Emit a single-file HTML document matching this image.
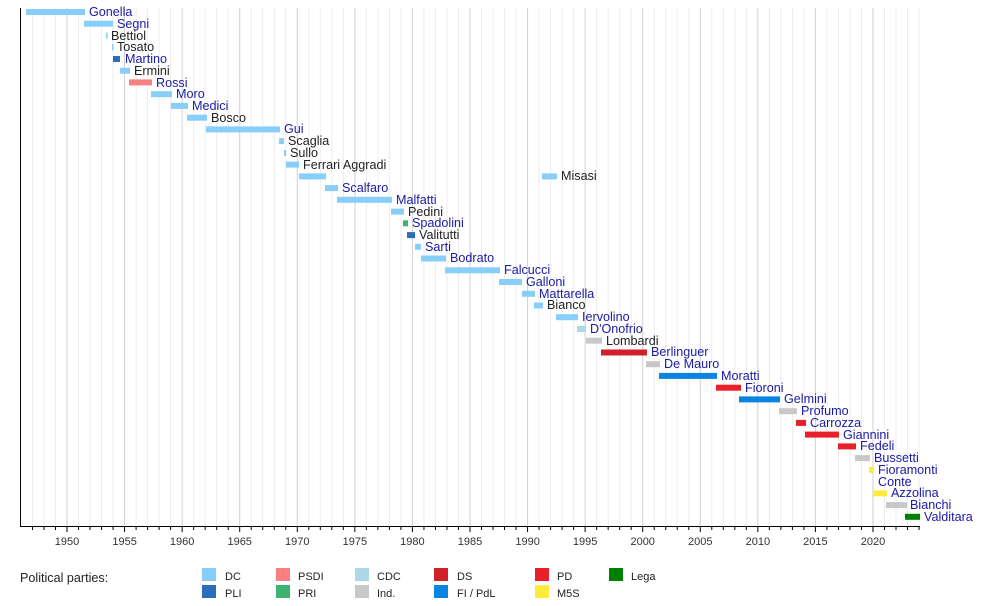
<!DOCTYPE html>
<html><head><meta charset="utf-8"><style>
body{margin:0;background:#fff;}
svg{display:block;font-family:"Liberation Sans",sans-serif;}
.b{fill:#1a1aa6;font-size:12.6px}
.k{fill:#222;font-size:12.6px}
.t{fill:#333;font-size:11px;text-anchor:middle}
.l{fill:#222;font-size:11px}
</style></head><body>
<svg id="s" width="1000" height="606" viewBox="0 0 1000 606">
<g id="grid"></g>
<line x1="20.5" y1="8" x2="20.5" y2="526" stroke="#000"/>
<line x1="20" y1="526.5" x2="920" y2="526.5" stroke="#000"/>
<g id="ticks"></g>
<g class="t">
<text x="67" y="545">1950</text><text x="124.6" y="545">1955</text><text x="182.1" y="545">1960</text><text x="239.7" y="545">1965</text><text x="297.3" y="545">1970</text><text x="354.9" y="545">1975</text><text x="412.4" y="545">1980</text><text x="470" y="545">1985</text><text x="527.6" y="545">1990</text><text x="585.1" y="545">1995</text><text x="642.7" y="545">2000</text><text x="700.3" y="545">2005</text><text x="757.9" y="545">2010</text><text x="815.4" y="545">2015</text><text x="873" y="545">2020</text>
</g>
<g>
<rect x="26" y="9" width="59" height="6" fill="#87cefa"/><text class="b" x="89" y="16">Gonella</text>
<rect x="84" y="20.7" width="29" height="6" fill="#87cefa"/><text class="b" x="117" y="28">Segni</text>
<rect x="106" y="32.5" width="1.5" height="6" fill="#87cefa"/><text class="k" x="111" y="40">Bettiol</text>
<rect x="112" y="44.2" width="1.5" height="6" fill="#87cefa"/><text class="k" x="117" y="51">Tosato</text>
<rect x="113" y="56" width="7" height="6" fill="#2a6ebb"/><text class="b" x="125" y="63">Martino</text>
<rect x="120" y="67.7" width="10" height="6" fill="#87cefa"/><text class="k" x="134" y="75">Ermini</text>
<rect x="129" y="79.4" width="23" height="6" fill="#f88080"/><text class="b" x="156" y="87">Rossi</text>
<rect x="151" y="91.2" width="21" height="6" fill="#87cefa"/><text class="b" x="176" y="98">Moro</text>
<rect x="171" y="102.9" width="17" height="6" fill="#87cefa"/><text class="b" x="192" y="110">Medici</text>
<rect x="187" y="114.7" width="20" height="6" fill="#87cefa"/><text class="k" x="211" y="122">Bosco</text>
<rect x="206" y="126.4" width="74" height="6" fill="#87cefa"/><text class="b" x="284" y="133">Gui</text>
<rect x="279" y="138.1" width="5" height="6" fill="#87cefa"/><text class="k" x="288" y="145">Scaglia</text>
<rect x="284" y="149.9" width="2" height="6" fill="#87cefa"/><text class="k" x="290" y="157">Sullo</text>
<rect x="286" y="161.6" width="13" height="6" fill="#87cefa"/><text class="k" x="303" y="169">Ferrari Aggradi</text>
<rect x="299" y="173.4" width="27" height="6" fill="#87cefa"/><rect x="542" y="173.4" width="15" height="6" fill="#87cefa"/><text class="k" x="561" y="180">Misasi</text>
<rect x="325" y="185.1" width="13" height="6" fill="#87cefa"/><text class="b" x="342" y="192">Scalfaro</text>
<rect x="337" y="196.8" width="55" height="6" fill="#87cefa"/><text class="b" x="396" y="204">Malfatti</text>
<rect x="391" y="208.6" width="13" height="6" fill="#87cefa"/><text class="k" x="408" y="216">Pedini</text>
<rect x="403" y="220.3" width="5" height="6" fill="#3cb371"/><text class="b" x="412" y="227">Spadolini</text>
<rect x="407" y="232.1" width="8" height="6" fill="#2a6ebb"/><text class="k" x="419" y="239">Valitutti</text>
<rect x="415" y="243.8" width="6" height="6" fill="#87cefa"/><text class="b" x="425" y="251">Sarti</text>
<rect x="421" y="255.5" width="25" height="6" fill="#87cefa"/><text class="b" x="450" y="262">Bodrato</text>
<rect x="445" y="267.3" width="55" height="6" fill="#87cefa"/><text class="b" x="504" y="274">Falcucci</text>
<rect x="499" y="279" width="23" height="6" fill="#87cefa"/><text class="b" x="526" y="286">Galloni</text>
<rect x="522" y="290.8" width="13" height="6" fill="#87cefa"/><text class="b" x="539" y="298">Mattarella</text>
<rect x="534" y="302.5" width="9" height="6" fill="#87cefa"/><text class="k" x="547" y="309">Bianco</text>
<rect x="556" y="314.2" width="22" height="6" fill="#87cefa"/><text class="b" x="582" y="321">Iervolino</text>
<rect x="577" y="326" width="9" height="6" fill="#add8e6"/><text class="b" x="590" y="333">D'Onofrio</text>
<rect x="586" y="337.7" width="16" height="6" fill="#c8c8c8"/><text class="k" x="606" y="345">Lombardi</text>
<rect x="601" y="349.5" width="46" height="6" fill="#d0202a"/><text class="b" x="651" y="356">Berlinguer</text>
<rect x="646" y="361.2" width="14" height="6" fill="#c8c8c8"/><text class="b" x="664" y="368">De Mauro</text>
<rect x="659" y="372.9" width="58" height="6" fill="#0a84e0"/><text class="b" x="721" y="380">Moratti</text>
<rect x="716" y="384.7" width="25" height="6" fill="#e8202a"/><text class="b" x="745" y="392">Fioroni</text>
<rect x="739" y="396.4" width="41" height="6" fill="#0a84e0"/><text class="b" x="784" y="403">Gelmini</text>
<rect x="779" y="408.2" width="18" height="6" fill="#c8c8c8"/><text class="b" x="801" y="415">Profumo</text>
<rect x="796" y="419.9" width="10" height="6" fill="#e8202a"/><text class="b" x="810" y="427">Carrozza</text>
<rect x="805" y="431.6" width="34" height="6" fill="#e8202a"/><text class="b" x="843" y="439">Giannini</text>
<rect x="838" y="443.4" width="18" height="6" fill="#e8202a"/><text class="b" x="860" y="450">Fedeli</text>
<rect x="855" y="455.1" width="15" height="6" fill="#c8c8c8"/><text class="b" x="874" y="462">Bussetti</text>
<rect x="869" y="466.9" width="5" height="6" fill="#ffeb3b"/><text class="b" x="878" y="474">Fioramonti</text>
<text class="b" x="878" y="486">Conte</text>
<rect x="873" y="490.3" width="14" height="6" fill="#ffeb3b"/><text class="b" x="891" y="497">Azzolina</text>
<rect x="886" y="502.1" width="21" height="6" fill="#c8c8c8"/><text class="b" x="910" y="509">Bianchi</text>
<rect x="905" y="513.8" width="15" height="6" fill="#008000"/><text class="b" x="924" y="521">Valditara</text>
</g>
<text x="20" y="582" style="font-size:12.6px;fill:#222">Political parties:</text>
<g class="l">
<rect x="202" y="568" width="14" height="13" fill="#87cefa"/><text x="225" y="580">DC</text>
<rect x="202" y="585" width="14" height="13" fill="#2a6ebb"/><text x="225" y="597">PLI</text>
<rect x="276" y="568" width="14" height="13" fill="#f88080"/><text x="298" y="580">PSDI</text>
<rect x="276" y="585" width="14" height="13" fill="#3cb371"/><text x="298" y="597">PRI</text>
<rect x="355" y="568" width="14" height="13" fill="#add8e6"/><text x="377" y="580">CDC</text>
<rect x="355" y="585" width="14" height="13" fill="#c8c8c8"/><text x="377" y="597">Ind.</text>
<rect x="434" y="568" width="14" height="13" fill="#d0202a"/><text x="457" y="580">DS</text>
<rect x="434" y="585" width="14" height="13" fill="#0a84e0"/><text x="457" y="597">FI / PdL</text>
<rect x="535" y="568" width="14" height="13" fill="#e8202a"/><text x="557" y="580">PD</text>
<rect x="535" y="585" width="14" height="13" fill="#ffeb3b"/><text x="557" y="597">M5S</text>
<rect x="609" y="568" width="14" height="13" fill="#008000"/><text x="631" y="580">Lega</text>
</g>
</svg>
<script>
var g=document.getElementById('grid'),t=document.getElementById('ticks'),ns='http://www.w3.org/2000/svg';
for(var y=1946;y<=2024;y++){var x=67+(y-1950)*11.514;if(x<21||x>921)continue;
var l=document.createElementNS(ns,'line');l.setAttribute('x1',x);l.setAttribute('x2',x);l.setAttribute('y1',8);l.setAttribute('y2',526);
l.setAttribute('stroke',y%5==0?'#d0d0d0':'#ececec');g.appendChild(l);
var k=document.createElementNS(ns,'line');k.setAttribute('x1',x);k.setAttribute('x2',x);k.setAttribute('y1',526);k.setAttribute('y2',y%5==0?532:530);k.setAttribute('stroke','#000');t.appendChild(k);}
</script>
</body></html>
